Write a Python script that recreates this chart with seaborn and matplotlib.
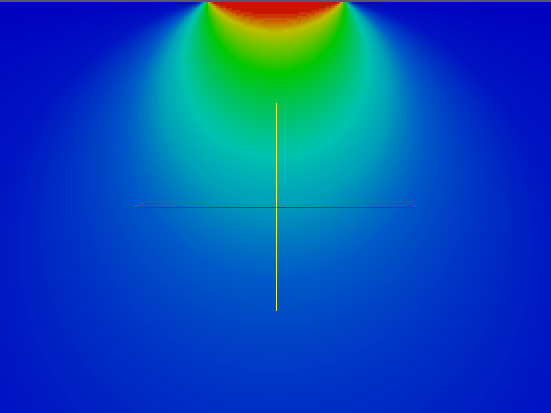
# Major principal stress under a uniform strip footing (elastic half-space),
# shown as a full-bleed field with two probe lines. Saves out.png (551x413).

import matplotlib.pyplot as plt
import numpy as np
import pandas as pd
import seaborn as sns
from matplotlib.colors import LinearSegmentedColormap

# ================ Model parameters ================
X_RANGE = [-4.0, 4.0]      # m, horizontal extent of the section
Z_RANGE = [0.0, 6.0]       # m, depth
FOOTING_WIDTH = 2.0        # m, strip footing centred on x = 0
LOAD = 1.0                 # normalised surface pressure q
N_X, N_Z = 276, 207        # grid cells

# probe lines (m)
vprobe_x = [0.0, 0.0]
vprobe_z = [1.5, 4.5]
hprobe_x = [-2.0, 2.0]
hprobe_z = [3.0, 3.0]

# colour stops: sigma_1 / q  ->  colour
stop_values = [0.0, 0.15, 0.30, 0.40, 0.50, 0.65, 0.80, 0.92, 0.97, 0.99, 1.0]
stop_colors = ["#0000be", "#0014c3", "#005ac8", "#00a0b9", "#00c3af", "#00c35a",
               "#00c800", "#78c300", "#bebe00", "#c86e00", "#c81400"]

# ================ Stress field ================
xs = np.linspace(X_RANGE[0], X_RANGE[1], N_X + 1)
zs = np.linspace(Z_RANGE[0], Z_RANGE[1], N_Z + 1)
xc = 0.5 * (xs[:-1] + xs[1:])
zc = 0.5 * (zs[:-1] + zs[1:])
X, Z = np.meshgrid(xc, zc)

b = FOOTING_WIDTH / 2
alpha = np.arctan2(X + b, Z) - np.arctan2(X - b, Z)
sigma1 = LOAD / np.pi * (alpha + np.sin(alpha))

field = pd.DataFrame(sigma1, index=np.round(zc, 3), columns=np.round(xc, 3))

dx = (X_RANGE[1] - X_RANGE[0]) / N_X
dz = (Z_RANGE[1] - Z_RANGE[0]) / N_Z


def to_cells(x, z):
    return (np.asarray(x) - X_RANGE[0]) / dx, (np.asarray(z) - Z_RANGE[0]) / dz


cmap = LinearSegmentedColormap.from_list("stress", list(zip(stop_values, stop_colors)))

# ================ Plot ================
fig = plt.figure(figsize=(5.51, 4.13), dpi=100)
ax = fig.add_axes([0, 0, 1, 1])
sns.heatmap(field, ax=ax, cmap=cmap, vmin=0, vmax=LOAD, cbar=False,
            xticklabels=False, yticklabels=False, rasterized=True)

# footing / surface strip
_, top = to_cells(0, 0.03)
ax.axhspan(0, top, color="#5a5a64", lw=0)

# horizontal probe under, vertical probe on top
hx, hz = to_cells(hprobe_x, hprobe_z)
ax.plot(hx, hz, color="#dc0000", lw=0.75)
vx, vz = to_cells(vprobe_x, vprobe_z)
ax.plot(vx, vz, color="#f0f03c", lw=0.75)

ax.set_xlim(0, N_X)
ax.set_ylim(N_Z, 0)
ax.set_axis_off()

plt.savefig("out.png", dpi=100)
